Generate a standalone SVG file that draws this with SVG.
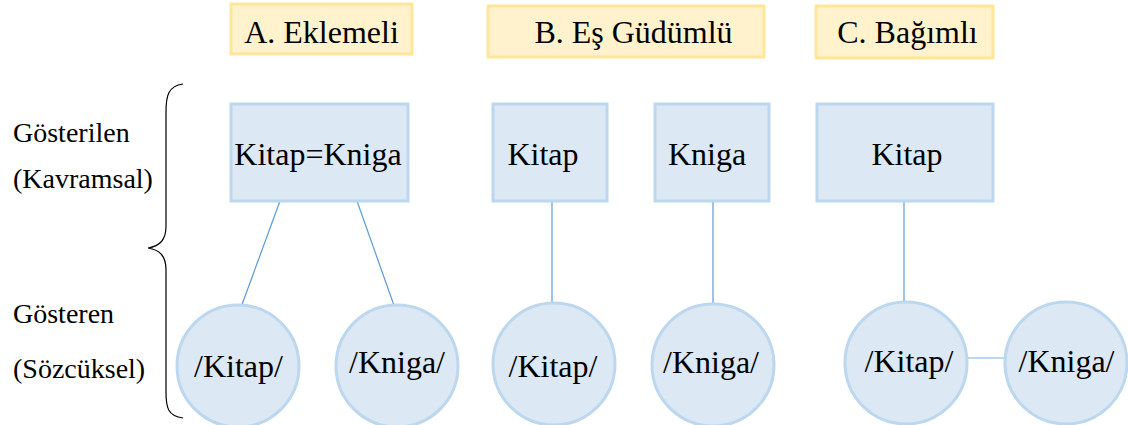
<svg xmlns="http://www.w3.org/2000/svg" width="1128" height="425" viewBox="0 0 1128 425">
<style>
text{font-family:"Liberation Serif","Times New Roman",serif;fill:#000}
.hdr rect{fill:#fff2cc;stroke:#ffe699;stroke-width:3}
.box rect{fill:#dde8f5;stroke:#bdd7ee;stroke-width:3}
.circ circle{fill:#dde8f5;stroke:#bdd7ee;stroke-width:3}
.t{font-size:32px;text-anchor:middle}
.lbl{font-size:28px}
.conn line{stroke:#5b9bd5;stroke-width:1.2}
</style>
<rect width="1128" height="425" fill="#fff"/>
<g id="hdrA" class="hdr"><rect x="231" y="4" width="181" height="50"/><text class="t" x="321.5" y="43">A. Eklemeli</text></g>
<g id="hdrB" class="hdr"><rect x="488" y="6" width="276" height="51"/><text class="t" x="633.5" y="43">B. Eş Güdümlü</text></g>
<g id="hdrC" class="hdr"><rect x="816" y="6" width="177" height="52"/><text class="t" x="907.5" y="43">C. Bağımlı</text></g>
<g id="brace"><path d="M183,84 C168,86 166,96 166,112 L166,226 C166,240 160,246 148,248 C160,250 166,256 166,270 L166,392 C166,408 168,416 183,418" fill="none" stroke="#000" stroke-width="1.2"/></g>
<g id="labels">
<text class="lbl" x="13" y="142">Gösterilen</text>
<text class="lbl" x="13" y="188">(Kavramsal)</text>
<text class="lbl" x="13" y="323">Gösteren</text>
<text class="lbl" x="13" y="378">(Sözcüksel)</text>
</g>
<g id="conns" class="conn">
<line x1="280" y1="201" x2="240" y2="310"/>
<line x1="357" y1="201" x2="396" y2="311"/>
<line x1="552" y1="201" x2="552" y2="305"/>
<line x1="713" y1="201" x2="713" y2="305"/>
<line x1="904" y1="201" x2="904" y2="304"/>
<line x1="967" y1="358" x2="1005" y2="358" style="stroke:#bdd7ee;stroke-width:2"/>
</g>
<g id="boxA" class="box"><rect x="231" y="104" width="177" height="97"/><text class="t" x="318" y="165">Kitap=Kniga</text></g>
<g id="boxB1" class="box"><rect x="493" y="104" width="114" height="97"/><text class="t" x="543" y="165">Kitap</text></g>
<g id="boxB2" class="box"><rect x="655" y="104" width="114" height="97"/><text class="t" x="707" y="165">Kniga</text></g>
<g id="boxC" class="box"><rect x="817" y="104" width="176" height="97"/><text class="t" x="907" y="165">Kitap</text></g>
<g id="cA1" class="circ"><circle cx="238" cy="366" r="61"/><text class="t" x="238.5" y="377">/Kitap/</text></g>
<g id="cA2" class="circ"><circle cx="397" cy="366" r="61"/><text class="t" x="397" y="373">/Kniga/</text></g>
<g id="cB1" class="circ"><circle cx="554" cy="364" r="61"/><text class="t" x="553" y="377">/Kitap/</text></g>
<g id="cB2" class="circ"><circle cx="713" cy="365" r="61"/><text class="t" x="711" y="373">/Kniga/</text></g>
<g id="cC1" class="circ"><circle cx="906" cy="363" r="61"/><text class="t" x="909" y="372">/Kitap/</text></g>
<g id="cC2" class="circ"><circle cx="1066" cy="363" r="61"/><text class="t" x="1066.5" y="372">/Kniga/</text></g>
</svg>
